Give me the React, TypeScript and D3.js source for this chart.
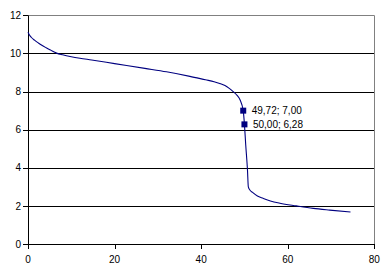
import React from "react";
import * as d3 from "d3";

const xs = [0, 0.3, 0.8, 1.5, 2.4, 3.2, 4.2, 5.2, 6.6, 8, 10, 12, 14.7, 20, 27, 32, 37.4, 41, 43, 44.3, 45.5, 46.5, 47.4, 48.3, 49, 49.72, 50, 50.3, 50.7, 50.9, 51.3, 51.8, 53, 54.3, 56, 58.2, 62, 65.9, 69.7, 74.5];
const ys = [11.11, 10.98, 10.84, 10.7, 10.55, 10.43, 10.3, 10.18, 10.02, 9.93, 9.83, 9.75, 9.66, 9.47, 9.22, 9.04, 8.8, 8.62, 8.52, 8.43, 8.32, 8.17, 8.0, 7.8, 7.56, 7.0, 6.28, 5.2, 3.9, 3.0, 2.82, 2.72, 2.52, 2.4, 2.26, 2.14, 2.0, 1.87, 1.78, 1.68];
const markX = [49.72, 50.0];
const markY = [7.0, 6.28];
const markLabels = ["49,72; 7,00", "50,00; 6,28"];
const xTicks = [0, 20, 40, 60, 80];
const yTicks = [0, 2, 4, 6, 8, 10, 12];

export default function App() {
  const W = 389, H = 272;
  const x = d3.scaleLinear().domain([0, 80]).range([28, 374.3]);
  const y = d3.scaleLinear().domain([0, 12]).range([244, 15.4]);
  const pts = xs.map((v, i) => [v, ys[i]] as [number, number]);
  const line = d3.line<[number, number]>().x(d => x(d[0])).y(d => y(d[1])).curve(d3.curveMonotoneX);
  const font = "'Liberation Sans', Arial, sans-serif";
  return (
    <svg width={W} height={H} style={{ position: "absolute", left: 0, top: 0, background: "#fff" }}>
      <rect x={0} y={0} width={W} height={H} fill="#fff" />
      {yTicks.filter(t => t > 0 && t < 12).map(t => (
        <line key={t} x1={x(0)} x2={x(80)} y1={Math.round(y(t)) + 0.5} y2={Math.round(y(t)) + 0.5} stroke="#000" strokeWidth={1} />
      ))}
      <line x1={x(0)} x2={x(80)} y1={Math.round(y(12)) + 0.5} y2={Math.round(y(12)) + 0.5} stroke="#808080" />
      <line x1={Math.round(x(80)) + 0.5} x2={Math.round(x(80)) + 0.5} y1={y(12)} y2={y(0)} stroke="#808080" />
      <line x1={Math.round(x(0)) + 0.5} x2={Math.round(x(0)) + 0.5} y1={y(12)} y2={y(0) + 0.5} stroke="#000" />
      <line x1={x(0)} x2={x(80)} y1={Math.round(y(0)) + 0.5} y2={Math.round(y(0)) + 0.5} stroke="#000" />
      {yTicks.map(t => (
        <g key={t}>
          <line x1={x(0) - 5} x2={x(0)} y1={Math.round(y(t)) + 0.5} y2={Math.round(y(t)) + 0.5} stroke="#000" />
          <text x={21} y={y(t) + 3.6} textAnchor="end" fontFamily={font} fontSize={10}>{t}</text>
        </g>
      ))}
      {xTicks.map(t => (
        <g key={t}>
          <line x1={Math.round(x(t)) + 0.5} x2={Math.round(x(t)) + 0.5} y1={y(0)} y2={y(0) + 5} stroke="#000" />
          <text x={x(t)} y={262.5} textAnchor="middle" fontFamily={font} fontSize={10}>{t}</text>
        </g>
      ))}
      <path d={line(pts) || ""} fill="none" stroke="#000080" strokeWidth={1.1} />
      {markX.map((mx, i) => (
        <g key={i}>
          <rect x={x(mx) - 3} y={y(markY[i]) - 3} width={6} height={6} fill="#000080" />
          <text x={x(mx) + 8.5} y={y(markY[i]) + 3.7} fontFamily={font} fontSize={10}>{markLabels[i]}</text>
        </g>
      ))}
    </svg>
  );
}
